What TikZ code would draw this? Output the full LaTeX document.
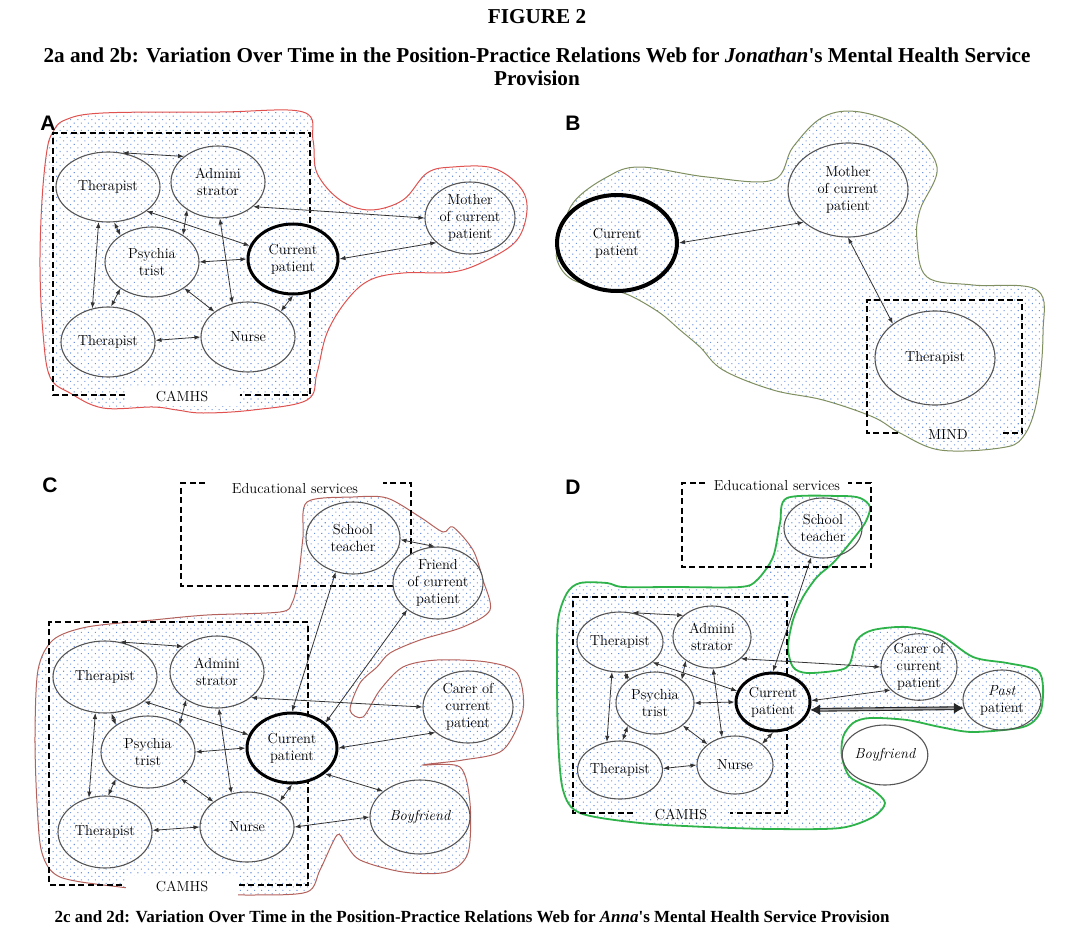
\documentclass[tikz,border=0pt]{standalone}
\usepackage{fontspec}
\usetikzlibrary{shapes.geometric, arrows.meta, patterns.meta}
\newfontfamily\titlefont{Liberation Serif}
\newfontfamily\letterfont{Liberation Sans}
\definecolor{edgered}{HTML}{E0524F}
\definecolor{edgeolive}{HTML}{7F8F5F}
\definecolor{edgebrown}{HTML}{B4615C}
\definecolor{edgegreen}{HTML}{2DB34A}
\definecolor{dotblue}{HTML}{6F94DC}
\definecolor{ringgray}{HTML}{555555}

\begin{document}
\begin{tikzpicture}[
    x=1pt, y=-1pt,
    dotted fill/.style={pattern={Dots[distance=5pt, angle=45, radius=0.75pt]}, pattern color=dotblue},
    role/.style={ellipse, draw=ringgray, line width=1.1pt, inner sep=0pt, align=center,
                 font=\fontsize{14.5}{17}\selectfont},
    sz/.style 2 args={minimum width=#1pt, minimum height=#2pt},
    masked/.style={preaction={fill=white}, dotted fill},
    cur/.style={role, masked, draw=black, line width=3pt},
    link/.style={<->, line width=0.8pt, draw=black!80},
    dashbox/.style={line width=1.8pt, dash pattern=on 6pt off 3.5pt},
    blob/.style={line width=1pt, draw=#1, dotted fill},
    tag/.style={font=\fontsize{14.5}{17}\selectfont},
    panel/.style={font=\letterfont\fontsize{21}{21}\selectfont\bfseries},
    headline/.style={font=\titlefont\fontsize{21.2}{23}\selectfont\bfseries},
    >={Latex[length=6pt, width=4.5pt]}
]
\useasboundingbox (0,0) rectangle (1075,947);

% Titles
\node[headline] (fig) at (537,17) {FIGURE 2};
\node[headline] (ttl) at (537,55) {2a and 2b: Variation Over Time in the Position-Practice Relations Web for \textit{Jonathan}'s Mental Health Service};
\node[headline] (ttl2) at (537,78) {Provision};
\node[font=\titlefont\fontsize{17}{18}\selectfont\bfseries] (cap) at (472,917) {2c and 2d: Variation Over Time in the Position-Practice Relations Web for \textit{Anna}'s Mental Health Service Provision};

% ---------------- Panel A ----------------
\draw[blob=edgered] plot[smooth cycle, tension=0.6] coordinates {
    (53,132) (65,120) (103,113) (220,112) (303,112) (313,140) (317,173) (340,200)
    (370,210) (403,200) (427,173) (453,167) (493,168) (520,187) (527,210) (517,240)
    (487,260) (453,272) (403,273) (370,280) (347,300) (327,333) (317,373) (307,400)
    (253,410) (203,413) (177,410) (153,407) (103,408) (70,393) (50,377) (43,333)
    (40,267) (42,200) (47,150)};
\node[panel] (labA) at (48,123) {A};
\draw[dashbox] (125,395) -| (53,133) -| (310,395) -- (240,395);
\node[tag, fill=white, minimum width=112pt, minimum height=20pt] (camhsA) at (182,396) {CAMHS};

\node[role, sz={104}{70}] (aT1) at (108,187) {Therapist};
\node[role, sz={94}{72}] (aAd) at (218,182) {Admini\\strator};
\node[role, sz={94}{70}] (aPs) at (152,262) {Psychia\\trist};
\node[cur, sz={90}{70}] (aCp) at (293,259) {Current\\patient};
\node[role, sz={94}{70}] (aT2) at (108,342) {Therapist};
\node[role, sz={94}{70}] (aNu) at (248,337) {Nurse};
\node[role, sz={90}{72}] (aMo) at (470,218) {Mother\\of current\\patient};

\draw[link] (aT1.67) -- (aAd.143);
\draw[link] (aT1.-80) -- (aPs.140);
\draw[link] (aT1.-105) -- (aT2.115);
\draw[link] (aT1.-32) -- (aCp.163);
\draw[link] (aAd.-138) -- (aPs.41);
\draw[link] (aAd.-87) -- (aNu.115);
\draw[link] (aAd.-35) -- (aMo.180);
\draw[link] (aPs.0) -- (aCp.180);
\draw[link] (aPs.-140) -- (aT2.85);
\draw[link] (aPs.-39) -- (aNu.143);
\draw[link] (aCp.-90) -- (aNu.38);
\draw[link] (aCp.0) -- (aMo.-144);
\draw[link] (aT2.2) -- (aNu.180);

% ---------------- Panel B ----------------
\draw[blob=edgeolive] plot[smooth cycle, tension=0.6] coordinates {
    (560,240) (573,203) (607,177) (640,167) (707,177) (773,180) (793,147) (823,117)
    (860,112) (907,130) (937,167) (920,210) (917,240) (927,277) (973,285) (1037,290)
    (1043,333) (1037,400) (1023,437) (1000,448) (940,450) (900,433) (873,417) (823,400)
    (773,390) (723,370) (700,347) (680,330) (660,313) (633,297) (613,290) (573,280)
    (557,260)};
\node[panel] (labB) at (573,123) {B};
\draw[dashbox] (898,433) -| (867,300) -| (1022,433) -- (1002,433);
\node[tag] (mind) at (948,435) {MIND};

\node[cur, line width=4pt, sz={120}{96}] (bCp) at (617,243) {Current\\patient};
\node[role, sz={120}{94}] (bMo) at (848,190) {Mother\\of current\\patient};
\node[role, sz={120}{94}] (bTh) at (935,358) {Therapist};

\draw[link] (bCp.0) -- (bMo.-144);
\draw[link] (bMo.-90) -- (bTh.141);

% ---------------- Panel C ----------------
\draw[blob=edgebrown] plot[smooth cycle, tension=0.5] coordinates {
    (307,502) (303,537) (298,580) (292,603) (280,612) (207,615) (153,620) (87,627)
    (53,640) (38,670) (35,737) (37,803) (42,853) (60,877) (120,887) (187,893)
    (253,895) (307,892) (320,870) (337,835) (345,843) (360,860) (403,872) (447,872)
    (468,853) (470,803) (460,767) (423,765) (463,760) (503,750) (523,710) (517,673)
    (487,662) (437,660) (403,667) (380,690) (363,717) (350,710) (360,683) (377,667)
    (390,653) (420,640) (463,627) (490,610) (483,580) (473,550) (453,527) (443,532)
    (420,517) (387,498) (353,497)};
\node[panel] (labC) at (50,485) {C};
\draw[dashbox] (205,483) -| (181,586) -| (411,483) -- (383,483);
\node[tag] (eduC) at (295,489) {Educational services};
\draw[dashbox] (122,885) -| (49,622) -| (308,885) -- (238,885);
\node[tag, fill=white, minimum width=112pt, minimum height=20pt] (camhsC) at (182,886) {CAMHS};

\node[role, sz={104}{72}] (cT1) at (105,677) {Therapist};
\node[role, sz={94}{72}] (cAd) at (217,672) {Admini\\strator};
\node[role, sz={94}{72}] (cPs) at (148,752) {Psychia\\trist};
\node[cur, sz={90}{70}] (cCp) at (292,748) {Current\\patient};
\node[role, sz={94}{72}] (cT2) at (105,832) {Therapist};
\node[role, sz={94}{70}] (cNu) at (247,827) {Nurse};
\node[role, sz={94}{72}] (cSc) at (353,538) {School\\teacher};
\node[role, masked, sz={90}{72}] (cFr) at (438,583) {Friend\\of current\\patient};
\node[role, sz={90}{72}] (cCa) at (468,707) {Carer of\\current\\patient};
\node[role, sz={100}{74}] (cBf) at (420,817) {\itshape Boyfriend};

\draw[link] (cT1.67) -- (cAd.143);
\draw[link] (cT1.-80) -- (cPs.140);
\draw[link] (cT1.-105) -- (cT2.115);
\draw[link] (cT1.-32) -- (cCp.163);
\draw[link] (cAd.-138) -- (cPs.41);
\draw[link] (cAd.-87) -- (cNu.115);
\draw[link] (cAd.-37) -- (cCa.180);
\draw[link] (cPs.0) -- (cCp.180);
\draw[link] (cPs.-140) -- (cT2.85);
\draw[link] (cPs.-39) -- (cNu.143);
\draw[link] (cCp.-90) -- (cNu.38);
\draw[link] (cCp.0) -- (cCa.-142);
\draw[link] (cT2.2) -- (cNu.180);
\draw[link] (cCp.90) -- (cSc.-117);
\draw[link] (cCp.37) -- (cFr.-139);
\draw[link] (cCp.-38) -- (cBf.145);
\draw[link] (cNu.0) -- (cBf.180);
\draw[link] (cSc.-2) -- (cFr.95);

% ---------------- Panel D ----------------
\draw[blob=edgegreen, line width=1.8pt] plot[smooth cycle, tension=0.5] coordinates {
    (787,498) (780,523) (773,557) (757,580) (740,587) (673,587) (623,587) (607,583)
    (580,583) (567,593) (558,620) (557,670) (558,737) (563,790) (580,813) (640,823)
    (707,827) (773,829) (840,828) (873,817) (885,803) (873,790) (850,777) (842,757)
    (843,737) (853,723) (870,718) (907,720) (940,727) (973,732) (1023,727) (1040,713)
    (1043,687) (1037,670) (1007,663) (973,657) (940,635) (907,627) (873,630) (857,640)
    (850,663) (840,670) (807,673) (793,667) (788,647) (793,620) (803,597) (817,577)
    (833,563) (850,543) (865,523) (870,507) (860,498) (840,496)};
\node[panel] (labD) at (573,487) {D};
\draw[dashbox] (705,483) -| (682,567) -| (871,483) -- (848,483);
\node[tag] (eduD) at (777,486) {Educational services};
\draw[dashbox] (633,813) -| (573,597) -| (787,813) -- (730,813);
\node[tag] (camhsD) at (681,814) {CAMHS};

\node[role, sz={86}{60}] (dT1) at (620,642) {Therapist};
\node[role, sz={78}{62}] (dAd) at (712,637) {Admini\\strator};
\node[role, sz={78}{62}] (dPs) at (655,703) {Psychia\\trist};
\node[cur, sz={74}{58}] (dCp) at (773,702) {Current\\patient};
\node[role, sz={78}{58}] (dT2) at (620,770) {Therapist};
\node[role, sz={76}{58}] (dNu) at (735,765) {Nurse};
\node[role, sz={78}{60}] (dSc) at (823,528) {School\\teacher};
\node[role, sz={76}{60}] (dCa) at (919,667) {Carer of\\current\\patient};
\node[role, sz={78}{60}] (dPp) at (1002,700) {\textit{Past}\\patient};
\node[role, sz={84}{60}] (dBf) at (885,755) {\itshape Boyfriend};

\draw[link] (dT1.67) -- (dAd.143);
\draw[link] (dT1.-80) -- (dPs.140);
\draw[link] (dT1.-105) -- (dT2.115);
\draw[link] (dT1.-32) -- (dCp.163);
\draw[link] (dAd.-138) -- (dPs.41);
\draw[link] (dAd.-88) -- (dNu.115);
\draw[link] (dAd.-37) -- (dCa.180);
\draw[link] (dPs.0) -- (dCp.180);
\draw[link] (dPs.-140) -- (dT2.85);
\draw[link] (dPs.-39) -- (dNu.143);
\draw[link] (dCp.-90) -- (dNu.38);
\draw[link] (dCp.2) -- (dCa.-141);
\draw[link] (dT2.2) -- (dNu.180);
\draw[link] (dCp.90) -- (dSc.-112);
\draw[line width=1.1pt, draw=black!85, double=black!35, double distance=1.6pt,
      {Latex[length=10pt, width=11pt]}-{Latex[length=10pt, width=11pt]}] (dCp.-12) -- (dPp.-168);

\end{tikzpicture}
\end{document}
